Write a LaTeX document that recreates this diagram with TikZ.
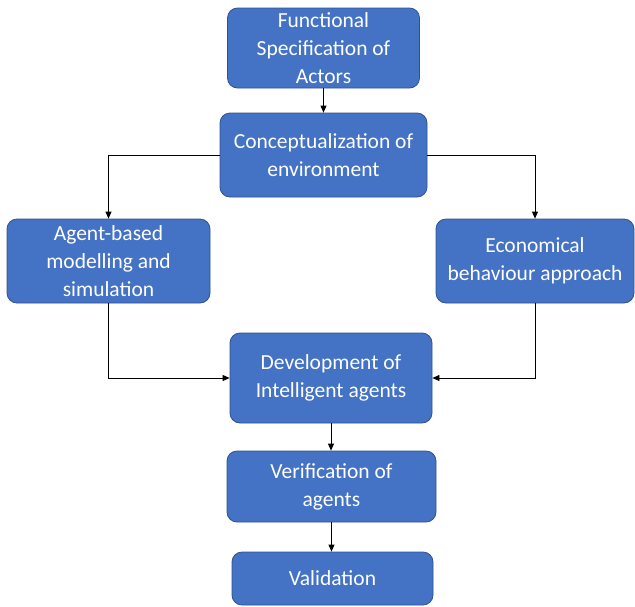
\documentclass[tikz,border=0pt]{standalone}
\usepackage{fontspec}
\setmainfont{Carlito}
\usetikzlibrary{arrows.meta,positioning}
\definecolor{boxfill}{HTML}{4472C4}
\definecolor{boxline}{HTML}{2F528F}

\begin{document}
\begin{tikzpicture}[x=1pt,y=-1pt,
    stage/.style={draw=boxline, fill=boxfill, rounded corners=10pt, text=white,
      align=center, inner sep=0pt, line width=0.8pt,
      font=\fontsize{21.5}{28}\selectfont},
    flow/.style={-{Triangle[length=7pt,width=6pt]}, line width=0.8pt}]
  \useasboundingbox (0,0) rectangle (635,606);

  \node[stage, minimum width=192pt, minimum height=80pt] (spec)    at (323.5,48)  {Functional\\Specification of\\Actors};
  \node[stage, minimum width=207pt, minimum height=84pt] (concept) at (323.5,155) {Conceptualization of\\environment};
  \node[stage, minimum width=203pt, minimum height=84pt] (abm)     at (108.5,261) {Agent-based\\modelling and\\simulation};
  \node[stage, minimum width=198pt, minimum height=84pt] (econ)    at (535,261)   {Economical\\behaviour approach};
  \node[stage, minimum width=202pt, minimum height=90pt] (dev)     at (331,378)   {Development of\\Intelligent agents};
  \node[stage, minimum width=209pt, minimum height=71pt] (verif)   at (331.5,486.5) {Verification of\\agents};
  \node[stage, minimum width=201pt, minimum height=53pt] (valid)   at (332.5,578.5) {Validation};

  \draw[flow] (spec) -- (concept);
  \draw[flow] (concept.west) -| (abm.north);
  \draw[flow] (concept.east) -| (econ.north);
  \draw[flow] (abm.south) |- (dev.west);
  \draw[flow] (econ.south) |- (dev.east);
  \draw[flow] (dev.south) -- (dev.south |- verif.north);
  \draw[flow] (verif.south) -- (verif.south |- valid.north);
\end{tikzpicture}
\end{document}
